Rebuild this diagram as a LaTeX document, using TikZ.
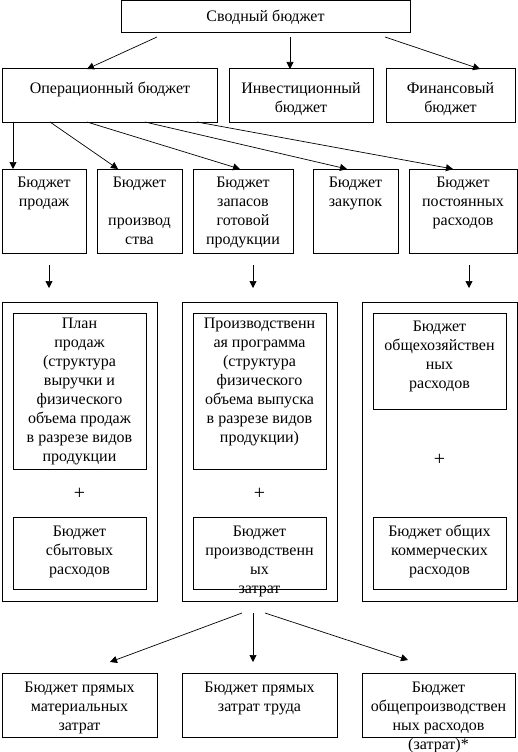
\documentclass[tikz,border=0pt]{standalone}
\usepackage{fontspec}
\setmainfont{Liberation Serif}
\usetikzlibrary{arrows.meta}
\tikzset{
  box/.style={draw, line width=1pt, inner sep=0pt, outer sep=0pt},
  txt/.style={align=center, inner sep=0pt, outer sep=0pt, font=\fontsize{16}{19}\selectfont},
  plus/.style={inner sep=0pt, outer sep=0pt, font=\fontsize{20}{20}\selectfont},
  arr/.style={line width=0.7pt, -{Triangle[width=7pt,length=7pt]}},
}
\newcommand\mkbox[5]{\node[box, minimum width={(#4-#2)*1pt}, minimum height={(#5-#3)*1pt}] (#1) at ({(#2+#4)/2},{(#3+#5)/2}) {};}
\newcommand\mktxt[4]{\node[txt, anchor=north] (#1) at (#2,{#3-7.5}) {\rule{0pt}{12pt}#4};}
\begin{document}
\begin{tikzpicture}[x=1pt,y=-1pt]
\useasboundingbox (0,0) rectangle (518,752);
% level 1
\mkbox{top}{121}{1}{410}{33}
\mktxt{topt}{265.5}{17}{Сводный бюджет}
% level 2
\mkbox{op}{2}{69}{217}{122}
\mktxt{opt}{110}{89}{Операционный бюджет}
\mkbox{inv}{229}{69}{373}{122}
\mktxt{invt}{301}{89}{Инвестиционный\\бюджет}
\mkbox{fin}{386}{69}{515}{122}
\mktxt{fint}{450.5}{89}{Финансовый\\бюджет}
% level 3
\mkbox{b1}{2}{169}{86}{253}
\mktxt{b1t}{44}{183}{Бюджет\\продаж}
\mkbox{b2}{97}{169}{182}{253}
\mktxt{b2t}{139.5}{183}{Бюджет\\\mbox{}\\производ\\ства}
\mkbox{b3}{193}{169}{293}{253}
\mktxt{b3t}{243}{183}{Бюджет\\запасов\\готовой\\продукции}
\mkbox{b4}{313}{169}{398}{253}
\mktxt{b4t}{355.5}{183}{Бюджет\\закупок}
\mkbox{b5}{409}{169}{517}{253}
\mktxt{b5t}{463}{183}{Бюджет\\постоянных\\расходов}
% outer groups
\mkbox{o1}{2}{302}{157}{601}
\mkbox{o2}{182}{302}{337}{601}
\mkbox{o3}{362}{302}{517}{601}
\mkbox{i1a}{13}{313}{146}{469}
\mktxt{i1at}{79.5}{324}{План\\продаж\\(структура\\выручки и\\физического\\объема продаж\\в разрезе видов\\продукции}
\mkbox{i2a}{193}{313}{326}{469}
\mktxt{i2at}{259.5}{324}{Производственн\\ая программа\\(структура\\физического\\объема выпуска\\в разрезе видов\\продукции)}
\mkbox{i3a}{373}{313}{506}{409}
\mktxt{i3at}{439.5}{327}{Бюджет\\общехозяйствен\\ных\\расходов}
\node[plus] (p1) at (79.5,494) {+};
\node[plus] (p2) at (259.5,494) {+};
\node[plus] (p3) at (439.5,460) {+};
\mkbox{i1b}{13}{517}{146}{589}
\mktxt{i1bt}{79.5}{532}{Бюджет\\сбытовых\\расходов}
\mkbox{i2b}{193}{517}{326}{589}
\mktxt{i2bt}{259.5}{532}{Бюджет\\производственн\\ых\\затрат}
\mkbox{i3b}{373}{517}{506}{589}
\mktxt{i3bt}{439.5}{532}{Бюджет общих\\коммерческих\\расходов}
% bottom
\mkbox{c1}{2}{673}{157}{737}
\mktxt{c1t}{79.5}{688}{Бюджет прямых\\материальных\\затрат}
\mkbox{c2}{182}{673}{337}{737}
\mktxt{c2t}{259.5}{688}{Бюджет прямых\\затрат труда}
\mkbox{c3}{362}{673}{515}{737}
\mktxt{c3t}{438.5}{688}{Бюджет\\общепроизводствен\\ных расходов\\(затрат)*}
% arrows level 1 -> 2
\draw[arr] ([xshift=36pt,yshift=-4pt]top.south west) -- ([xshift=85pt]op.north west);
\draw[arr] ([xshift=169pt,yshift=-4pt]top.south west) -- ([xshift=61pt]inv.north west);
\draw[arr] ([xshift=264pt,yshift=-4pt]top.south west) -- ([xshift=94pt]fin.north west);
% arrows op -> level 3
\draw[arr] ([xshift=11pt]op.south west) -- ([xshift=11pt]b1.north west);
\draw[arr] ([xshift=48pt]op.south west) -- ([xshift=21pt]b2.north west);
\draw[arr] ([xshift=85pt]op.south west) -- ([xshift=47pt]b3.north west);
\draw[arr] ([xshift=143pt]op.south west) -- ([xshift=34pt]b4.north west);
\draw[arr] ([xshift=195pt]op.south west) -- ([xshift=44pt]b5.north west);
% arrows level 3 -> groups
\draw[arr] ([xshift=47pt,yshift=-12pt]b1.south west) -- ([xshift=47pt,yshift=14pt]o1.north west);
\draw[arr] ([xshift=60pt,yshift=-12pt]b3.south west) -- ([xshift=71pt,yshift=14pt]o2.north west);
\draw[arr] ([xshift=60pt,yshift=-12pt]b5.south west) -- ([xshift=107pt,yshift=14pt]o3.north west);
% arrows group 2 -> bottom
\draw[arr] ([xshift=60pt,yshift=-12pt]o2.south west) -- ([xshift=108pt,yshift=11pt]c1.north west);
\draw[arr] ([xshift=71pt,yshift=-12pt]o2.south west) -- ([xshift=71pt,yshift=11pt]c2.north west);
\draw[arr] ([xshift=83pt,yshift=-12pt]o2.south west) -- ([xshift=46pt,yshift=13pt]c3.north west);
\end{tikzpicture}
\end{document}
